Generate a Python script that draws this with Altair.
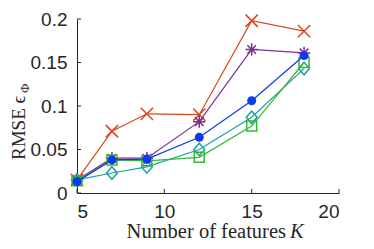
import altair as alt
import pandas as pd

features = [5, 7, 9, 12, 15, 18]
series_names = ["red", "purple", "cyan", "green", "blue"]
rmse_red = [0.015, 0.071, 0.091, 0.090, 0.198, 0.186]
rmse_purple = [0.015, 0.040, 0.040, 0.082, 0.165, 0.161]
rmse_cyan = [0.015, 0.023, 0.030, 0.050, 0.087, 0.143]
rmse_green = [0.014, 0.038, 0.037, 0.041, 0.077, 0.150]
rmse_blue = [0.013, 0.038, 0.039, 0.064, 0.106, 0.158]

x_ticks = [5, 10, 15, 20]
y_ticks = [0, 0.05, 0.1, 0.15, 0.2]

W, H = 262, 174

xs = alt.Scale(domain=[5, 20], nice=False)
ys = alt.Scale(domain=[0, 0.2], nice=False)

styles = {
    "red": dict(color="#D9461A", shape="M-1,-1L1,1M1,-1L-1,1", size=150, filled=False),
    "purple": dict(color="#7E2F8E", shape="M-1,0L1,0M0,-1L0,1M-0.7,-0.7L0.7,0.7M0.7,-0.7L-0.7,0.7", size=150, filled=False),
    "cyan": dict(color="#1F9FA3", shape="M0,-1.1L0.95,0L0,1.1L-0.95,0Z", size=130, filled=False),
    "green": dict(color="#33B833", shape="square", size=100, filled=False),
    "blue": dict(color="#0B3BEA", shape="circle", size=80, filled=True),
}
values = {"red": rmse_red, "purple": rmse_purple, "cyan": rmse_cyan,
          "green": rmse_green, "blue": rmse_blue}

layers = []
for i, name in enumerate(series_names):
    st = styles[name]
    df = pd.DataFrame({"K": features, "rmse": values[name]})
    base = alt.Chart(df)
    enc = dict(
        x=alt.X("K:Q", scale=xs,
                axis=alt.Axis(values=x_ticks, format="d", title=None, grid=False,
                              ticks=False, tickSize=0, labelPadding=9,
                              labelFontSize=19, labelFont="Liberation Sans",
                              labelColor="#262626", domainColor="#262626")) if i == 0 else alt.X("K:Q", scale=xs),
        y=alt.Y("rmse:Q", scale=ys,
                axis=alt.Axis(values=y_ticks, format="~g", title=None, grid=False,
                              ticks=False, tickSize=0, labelPadding=10,
                              labelFontSize=19, labelFont="Liberation Sans",
                              labelColor="#262626", domainColor="#262626")) if i == 0 else alt.Y("rmse:Q", scale=ys),
    )
    line = base.mark_line(color=st["color"], strokeWidth=1.2).encode(**enc)
    if st["filled"]:
        pt = base.mark_point(shape=st["shape"], size=st["size"], filled=True,
                             color=st["color"], opacity=1).encode(x="K:Q", y="rmse:Q")
    else:
        pt = base.mark_point(shape=st["shape"], size=st["size"], filled=False,
                             color=st["color"], strokeWidth=1.5, opacity=1).encode(x="K:Q", y="rmse:Q")
    layers += [line, pt]

xt = alt.Chart(pd.DataFrame({"v": x_ticks})).mark_rule(color="#262626").encode(
    x=alt.X("v:Q", scale=xs), y=alt.value(H), y2=alt.value(H - 4))
yt = alt.Chart(pd.DataFrame({"v": y_ticks})).mark_rule(color="#262626").encode(
    y=alt.Y("v:Q", scale=ys), x=alt.value(0), x2=alt.value(4))

lbl = pd.DataFrame({"a": [0]})
xtitle1 = alt.Chart(lbl).mark_text(text="Number of features", font="Liberation Serif",
                                   fontSize=20.5, align="right", baseline="alphabetic",
                                   color="#262626").encode(x=alt.value(209), y=alt.value(219))
xtitle2 = alt.Chart(lbl).mark_text(text="K", font="Liberation Serif", fontStyle="italic",
                                   fontSize=20.5, align="left", baseline="alphabetic",
                                   color="#262626").encode(x=alt.value(213), y=alt.value(219))
ytitle1 = alt.Chart(lbl).mark_text(text="RMSE \u03f5", font="Liberation Serif",
                                   fontSize=19, align="left", baseline="alphabetic", angle=270,
                                   color="#262626").encode(x=alt.value(-52), y=alt.value(141))
ytitle2 = alt.Chart(lbl).mark_text(text="\u03a6", font="Liberation Serif",
                                   fontSize=13, align="left", baseline="alphabetic", angle=270,
                                   color="#262626").encode(x=alt.value(-48), y=alt.value(74))

chart = alt.layer(*layers, xt, yt, xtitle1, xtitle2, ytitle1, ytitle2).properties(
    width=W, height=H,
    autosize=alt.AutoSizeParams(type="none"),
    padding={"left": 69, "top": 11, "right": 27, "bottom": 48},
).configure_view(stroke=None).configure_axis(domainWidth=1)

chart.save("out.html", embed_options={"renderer": "svg", "actions": False})
